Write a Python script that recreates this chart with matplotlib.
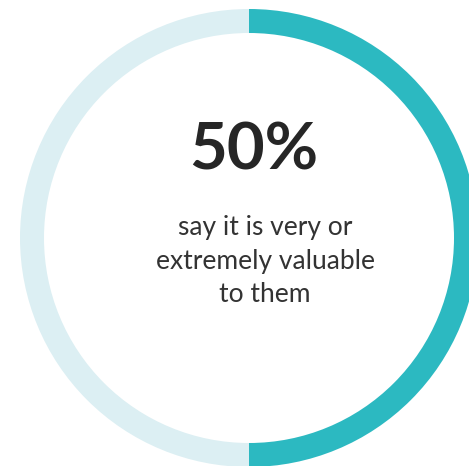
import matplotlib.pyplot as plt

# share of respondents
values = [50, 50]
colors = ['#2cb9c1', '#dceff3']
big_label = '50%'
sub_label = 'say it is very or\nextremely valuable\nto them'

W, H = 469, 466
fig = plt.figure(figsize=(W / 100, H / 100), dpi=100)
ax = fig.add_axes([0, 0, 1, 1])

# ring, clockwise from 12 o'clock
ax.pie(values, colors=colors, center=(249, 228), radius=229,
       startangle=90, counterclock=False,
       wedgeprops=dict(width=24, linewidth=0))

ax.set_xlim(0, W)
ax.set_ylim(0, H)
ax.set_aspect('equal')
ax.axis('off')

ax.text(254, 315, big_label, ha='center', va='center', fontsize=47,
        fontweight='bold', family='Lato', color='#262626')
ax.text(265, 205, sub_label, ha='center', va='center', fontsize=19,
        family='Lato', color='#333333', linespacing=1.4)

fig.savefig('out.png', dpi=100)
